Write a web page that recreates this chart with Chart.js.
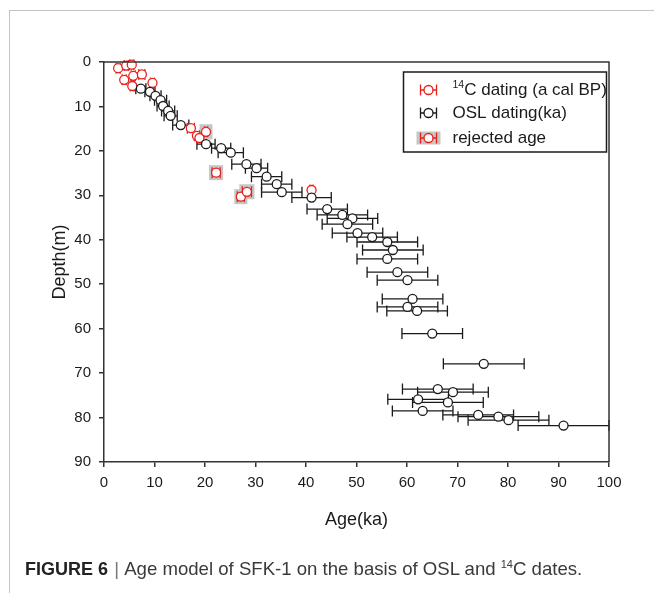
<!DOCTYPE html>
<html>
<head>
<meta charset="utf-8">
<script src="https://cdn.jsdelivr.net/npm/chart.js@4.4.1/dist/chart.umd.min.js"></script>
<style>
  body { margin: 0; background: #fff; }
  #wrap { position: relative; width: 654px; height: 593px; overflow: hidden; font-family: "Liberation Sans", Arial, sans-serif; }
  #frame { position: absolute; left: 9px; top: 10px; width: 700px; height: 700px; border-left: 1px solid #c4c4c4; border-top: 1px solid #c4c4c4; }
  #chart { position: absolute; left: 0; top: 0; }
  #caption { position: absolute; left: 25px; top: 560px; font-size: 18.6px; line-height: 18px; color: #3a3a3a; white-space: nowrap; }
  #caption b { color: #222; font-size: 18px; }
  #caption .sep { color: #777; margin: 0 1px; }
  #caption .sup { font-size: 11px; position: relative; top: -7px; }
</style>
</head>
<body>
<div id="wrap">
  <div id="frame"></div>
  <canvas id="chart" width="654" height="593"></canvas>
  <div id="caption"><b>FIGURE 6</b> <span class="sep">|</span> Age model of SFK-1 on the basis of OSL and <span class="sup">14</span>C dates.</div>
</div>
<script>
// 14C ages (a cal BP, shown in ka) that were kept
const c14Age   = [2.8, 4.4, 5.5, 5.8, 7.5, 4.0, 5.6, 9.6, 17.2, 18.4, 18.9, 41.1];
const c14Depth = [1.4, 0.8, 0.6, 3.1, 2.8, 4.0, 5.4, 4.7, 14.9, 16.6, 17.1, 28.8];
const c14Err   = [0.4, 0.4, 0.4, 0.4, 0.6, 0.4, 0.4, 0.4, 0.7, 0.5, 0.5, 0.3];

// 14C ages that were rejected
const rejAge   = [20.2, 22.2, 27.1, 28.3];
const rejDepth = [15.7, 24.9, 30.3, 29.2];
const rejErr   = [0.3, 0.8, 0.7, 0.9];

// OSL ages (ka)
const oslAge   = [7.3, 9.1, 10.2, 11.2, 11.7, 12.7, 13.2, 15.2, 20.2, 23.2, 25.1, 28.2, 30.2, 32.2, 34.2, 35.2,
                  41.1, 44.2, 47.2, 49.2, 48.2, 50.2, 53.1, 56.1, 57.2, 56.1, 58.1, 60.1, 61.1, 60.1, 62.0, 65.0,
                  75.2, 66.1, 69.1, 62.2, 68.1, 63.1, 74.1, 78.1, 80.1, 91.0];
const oslDepth = [6.0, 6.7, 7.6, 8.6, 9.9, 11.0, 12.1, 14.2, 18.5, 19.4, 20.4, 23.0, 23.9, 25.8, 27.5, 29.3,
                  30.5, 33.1, 34.4, 35.2, 36.5, 38.5, 39.4, 40.5, 42.3, 44.3, 47.3, 49.1, 53.3, 55.1, 56.0, 61.1,
                  67.9, 73.6, 74.3, 75.9, 76.6, 78.5, 79.4, 79.8, 80.6, 81.8];
const oslErr   = [1.0, 1.0, 1.1, 1.2, 1.2, 1.3, 1.3, 1.6, 1.8, 1.9, 2.5, 2.9, 2.2, 3.0, 3.0, 4.0,
                  3.9, 4.0, 5.0, 5.0, 5.0, 5.0, 5.0, 6.0, 6.0, 6.0, 6.0, 6.0, 6.0, 6.0, 6.0, 6.0,
                  8.0, 7.0, 7.0, 6.0, 7.0, 6.0, 7.0, 8.0, 8.0, 9.0];

const ageTicks = [0, 10, 20, 30, 40, 50, 60, 70, 80, 90, 100];
const depthTicks = [0, 10, 20, 30, 40, 50, 60, 70, 80, 90];

const RED = '#e8201c';
const INK = '#1a1a1a';
const AXIS = '#333333';
const GRAY = '#c6c6c6';
const CAP = 5.5;
const FONT = '"Liberation Sans", Arial, sans-serif';

function toPoints(ages, depths, errs) {
    return ages.map((a, i) => ({ x: a, y: depths[i], err: errs[i] }));
}

function drawBar(ctx, x0, x1, y, color) {
    ctx.save();
    ctx.strokeStyle = color;
    ctx.lineWidth = 1.3;
    ctx.beginPath();
    ctx.moveTo(x0, y); ctx.lineTo(x1, y);
    ctx.moveTo(x0, y - CAP); ctx.lineTo(x0, y + CAP);
    ctx.moveTo(x1, y - CAP); ctx.lineTo(x1, y + CAP);
    ctx.stroke();
    ctx.restore();
}

function drawDot(ctx, x, y, color) {
    ctx.save();
    ctx.fillStyle = '#fff';
    ctx.strokeStyle = color;
    ctx.lineWidth = 1.3;
    ctx.beginPath();
    ctx.arc(x, y, 4.5, 0, Math.PI * 2);
    ctx.fill();
    ctx.stroke();
    ctx.restore();
}

// gray boxes behind rejected ages + horizontal error bars
const errorBars = {
    id: 'errorBars',
    beforeDatasetsDraw(chart) {
        const ctx = chart.ctx;
        const xs = chart.scales.x, ys = chart.scales.y;
        chart.data.datasets.forEach(ds => {
            if (!ds.rejected) return;
            ds.data.forEach(p => {
                const px = xs.getPixelForValue(p.x);
                const py = ys.getPixelForValue(p.y);
                const half = Math.max(xs.getPixelForValue(p.x + p.err) - px + 3, 6.5);
                ctx.fillStyle = GRAY;
                ctx.fillRect(px - half, py - 7.5, half * 2, 15);
            });
        });
        chart.data.datasets.forEach(ds => {
            ds.data.forEach(p => {
                const py = ys.getPixelForValue(p.y);
                drawBar(ctx, xs.getPixelForValue(p.x - p.err), xs.getPixelForValue(p.x + p.err), py, ds.borderColor);
            });
        });
    },
    afterDraw(chart) {
        const ctx = chart.ctx;
        const area = chart.chartArea;
        // top and right frame lines
        ctx.save();
        ctx.strokeStyle = AXIS;
        ctx.lineWidth = 1.5;
        ctx.beginPath();
        ctx.moveTo(area.left, area.top); ctx.lineTo(area.right, area.top); ctx.lineTo(area.right, area.bottom);
        ctx.stroke();
        ctx.restore();

        // legend
        const right = area.right - 2.5, top = area.top + 10;
        const left = right - 203;
        ctx.save();
        ctx.strokeStyle = INK;
        ctx.lineWidth = 1.5;
        ctx.strokeRect(left, top, 203, 80);
        const ix = left + 25, tx = left + 49;
        const rows = [top + 18, top + 41, top + 66];
        ctx.fillStyle = GRAY;
        ctx.fillRect(ix - 12, rows[2] - 6.5, 24, 13);
        drawBar(ctx, ix - 8, ix + 8, rows[0], RED); drawDot(ctx, ix, rows[0], RED);
        drawBar(ctx, ix - 8, ix + 8, rows[1], INK); drawDot(ctx, ix, rows[1], INK);
        drawBar(ctx, ix - 8, ix + 8, rows[2], RED); drawDot(ctx, ix, rows[2], RED);
        ctx.fillStyle = INK;
        ctx.textBaseline = 'middle';
        ctx.font = '10.5px ' + FONT;
        ctx.fillText('14', tx, rows[0] - 5);
        const w14 = ctx.measureText('14').width;
        ctx.font = '17px ' + FONT;
        ctx.fillText('C dating (a cal BP)', tx + w14, rows[0]);
        ctx.fillText('OSL dating(ka)', tx, rows[1]);
        ctx.fillText('rejected age', tx, rows[2]);
        ctx.restore();
    }
};

const pointStyle = color => ({
    borderColor: color,
    backgroundColor: '#fff',
    pointRadius: 4.5,
    pointHoverRadius: 4.5,
    pointBorderWidth: 1.3,
    showLine: false
});

new Chart(document.getElementById('chart'), {
    type: 'scatter',
    data: {
        datasets: [
            Object.assign({ label: 'rejected age', rejected: true, data: toPoints(rejAge, rejDepth, rejErr) }, pointStyle(RED)),
            Object.assign({ label: 'OSL dating(ka)', data: toPoints(oslAge, oslDepth, oslErr) }, pointStyle(INK)),
            Object.assign({ label: '14C dating (a cal BP)', data: toPoints(c14Age, c14Depth, c14Err) }, pointStyle(RED))
        ]
    },
    options: {
        responsive: false,
        animation: false,
        clip: false,
        layout: { padding: { top: 62, right: 45, left: 0, bottom: 0 } },
        plugins: { legend: { display: false }, tooltip: { enabled: false } },
        scales: {
            x: {
                type: 'linear',
                min: ageTicks[0],
                max: ageTicks[ageTicks.length - 1],
                afterBuildTicks: s => { s.ticks = ageTicks.map(v => ({ value: v })); },
                afterFit: s => { s.height = 131; },
                grid: { drawOnChartArea: false, tickLength: 5, color: AXIS, lineWidth: 1.5 },
                border: { color: AXIS, width: 1.5 },
                ticks: { color: INK, padding: 7, font: { family: FONT, size: 15 } },
                title: { display: true, text: 'Age(ka)', color: INK, font: { family: FONT, size: 18 }, padding: { top: 0, bottom: 62 } }
            },
            y: {
                type: 'linear',
                reverse: true,
                min: depthTicks[0],
                max: depthTicks[depthTicks.length - 1],
                afterBuildTicks: s => { s.ticks = depthTicks.map(v => ({ value: v })); },
                afterFit: s => { s.width = 104; },
                grid: { drawOnChartArea: false, tickLength: 5, color: AXIS, lineWidth: 1.5 },
                border: { color: AXIS, width: 1.5 },
                ticks: { color: INK, padding: 8, font: { family: FONT, size: 15 } },
                title: { display: true, text: 'Depth(m)', color: INK, font: { family: FONT, size: 18 }, padding: { top: 49, bottom: 0 } }
            }
        }
    },
    plugins: [errorBars]
});
</script>
</body>
</html>
